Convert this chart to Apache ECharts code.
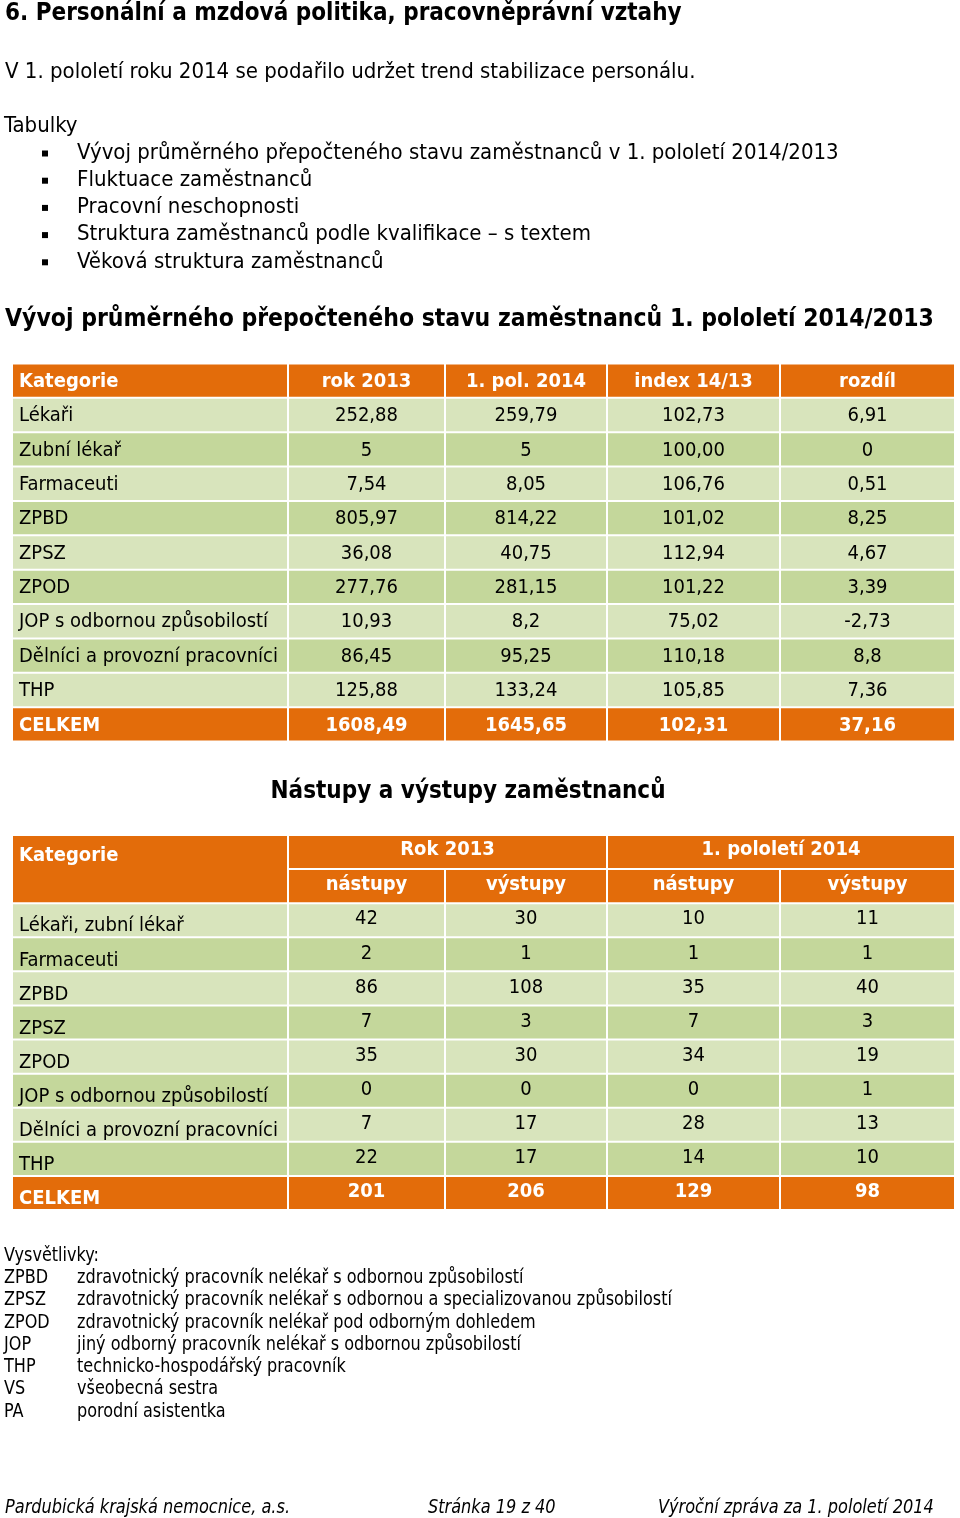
<!DOCTYPE html>
<html><head><meta charset="utf-8">
<script src="https://cdn.jsdelivr.net/npm/echarts@6/dist/echarts.min.js"></script>
<style>html,body{margin:0;padding:0;background:#fff}#c{width:960px;height:1518px}</style>
</head><body><div id="c"></div>
<script>
// ---------- data ----------
const t1Header = ['Kategorie', 'rok 2013', '1. pol. 2014', 'index 14/13', 'rozdíl'];
const t1Categories = ['Lékaři', 'Zubní lékař', 'Farmaceuti', 'ZPBD', 'ZPSZ', 'ZPOD',
  'JOP s odbornou způsobilostí', 'Dělníci a provozní pracovníci', 'THP'];
const t1Rok2013 = [252.88, 5, 7.54, 805.97, 36.08, 277.76, 10.93, 86.45, 125.88];
const t1Pol2014 = [259.79, 5, 8.05, 814.22, 40.75, 281.15, 8.2, 95.25, 133.24];
const t1Index = [102.73, 100.00, 106.76, 101.02, 112.94, 101.22, 75.02, 110.18, 105.85];
const t1Rozdil = [6.91, 0, 0.51, 8.25, 4.67, 3.39, -2.73, 8.8, 7.36];
const t1TotalLabel = 'CELKEM';
const t1Total = [1608.49, 1645.65, 102.31, 37.16];

const t2Header = ['Kategorie', 'Rok 2013', '1. pololetí 2014'];
const t2SubHeader = ['nástupy', 'výstupy', 'nástupy', 'výstupy'];
const t2Categories = ['Lékaři, zubní lékař', 'Farmaceuti', 'ZPBD', 'ZPSZ', 'ZPOD',
  'JOP s odbornou způsobilostí', 'Dělníci a provozní pracovníci', 'THP'];
const t2Nastupy2013 = [42, 2, 86, 7, 35, 0, 7, 22];
const t2Vystupy2013 = [30, 1, 108, 3, 30, 0, 17, 17];
const t2Nastupy2014 = [10, 1, 35, 7, 34, 0, 28, 14];
const t2Vystupy2014 = [11, 1, 40, 3, 19, 1, 13, 10];
const t2Total = [201, 206, 129, 98];

const headingText = '6. Personální a mzdová politika, pracovněprávní vztahy';
const introText = 'V 1. pololetí roku 2014 se podařilo udržet trend stabilizace personálu.';
const listTitle = 'Tabulky';
const listItems = ['Vývoj průměrného přepočteného stavu zaměstnanců v 1. pololetí 2014/2013',
  'Fluktuace zaměstnanců', 'Pracovní neschopnosti',
  'Struktura zaměstnanců podle kvalifikace – s textem', 'Věková struktura zaměstnanců'];
const table1Title = 'Vývoj průměrného přepočteného stavu zaměstnanců 1. pololetí 2014/2013';
const table2Title = 'Nástupy a výstupy zaměstnanců';
const notesTitle = 'Vysvětlivky:';
const noteAbbr = ['ZPBD', 'ZPSZ', 'ZPOD', 'JOP', 'THP', 'VS', 'PA'];
const noteText = ['zdravotnický pracovník nelékař s odbornou způsobilostí',
  'zdravotnický pracovník nelékař s odbornou a specializovanou způsobilostí',
  'zdravotnický pracovník nelékař pod odborným dohledem',
  'jiný odborný pracovník nelékař s odbornou způsobilostí',
  'technicko-hospodářský pracovník', 'všeobecná sestra', 'porodní asistentka'];
const footerTexts = ['Pardubická krajská nemocnice, a.s.', 'Stránka 19 z 40', 'Výroční zpráva za 1. pololetí 2014'];

// ---------- layout / style ----------
const colEdges = [0, 276, 433, 595, 768, 943];
const ORANGE = '#E36C0A', LIGHT = '#D8E4BC', DARK = '#C4D79B';
const FONT = '"DejaVu Sans Condensed", "DejaVu Sans", sans-serif';
const CELL_FS = 20;

const fmt = v => String(v).replace('.', ',');
const fmt2 = v => v.toFixed(2).replace('.', ',');

function cell(c0, c1, r0, r1, text, fill, opt) {
  return Object.assign({ x0: colEdges[c0], x1: colEdges[c1], y0: r0, y1: r1, text: text, fill: fill,
    color: '#000', bold: false, align: 'center', dy: 1 }, opt || {});
}

// table 1 cells
const cells1 = [];
t1Header.forEach((h, i) => cells1.push(cell(i, i + 1, 0, 1, h, ORANGE,
  { color: '#fff', bold: true, align: i === 0 ? 'left' : 'center' })));
t1Categories.forEach((cat, r) => {
  const fill = r % 2 === 0 ? LIGHT : DARK;
  const row = r + 1;
  cells1.push(cell(0, 1, row, row + 1, cat, fill, { align: 'left' }));
  cells1.push(cell(1, 2, row, row + 1, fmt(t1Rok2013[r]), fill));
  cells1.push(cell(2, 3, row, row + 1, fmt(t1Pol2014[r]), fill));
  cells1.push(cell(3, 4, row, row + 1, fmt2(t1Index[r]), fill));
  cells1.push(cell(4, 5, row, row + 1, fmt(t1Rozdil[r]), fill));
});
cells1.push(cell(0, 1, 10, 11, t1TotalLabel, ORANGE, { color: '#fff', bold: true, align: 'left' }));
t1Total.forEach((v, i) => cells1.push(cell(i + 1, i + 2, 10, 11, i === 2 ? fmt2(v) : fmt(v), ORANGE,
  { color: '#fff', bold: true })));

// table 2 cells
const cells2 = [];
cells2.push(cell(0, 1, 0, 2, t2Header[0], ORANGE, { color: '#fff', bold: true, align: 'left', dy: -13 }));
cells2.push(cell(1, 3, 0, 1, t2Header[1], ORANGE, { color: '#fff', bold: true, dy: -2 }));
cells2.push(cell(3, 5, 0, 1, t2Header[2], ORANGE, { color: '#fff', bold: true, dy: -2 }));
t2SubHeader.forEach((h, i) => cells2.push(cell(i + 1, i + 2, 1, 2, h, ORANGE, { color: '#fff', bold: true, dy: -1 })));
t2Categories.forEach((cat, r) => {
  const fill = r % 2 === 0 ? LIGHT : DARK;
  const row = r + 2;
  cells2.push(cell(0, 1, row, row + 1, cat, fill, { align: 'left', dy: 6 }));
  [t2Nastupy2013, t2Vystupy2013, t2Nastupy2014, t2Vystupy2014].forEach((arr, i) =>
    cells2.push(cell(i + 1, i + 2, row, row + 1, fmt(arr[r]), fill, { dy: -1 })));
});
cells2.push(cell(0, 1, 10, 11, t1TotalLabel, ORANGE, { color: '#fff', bold: true, align: 'left', dy: 6 }));
t2Total.forEach((v, i) => cells2.push(cell(i + 1, i + 2, 10, 11, fmt(v), ORANGE, { color: '#fff', bold: true, dy: -1 })));

function cellSeries(idx, cells) {
  return {
    type: 'custom', coordinateSystem: 'cartesian2d', xAxisIndex: idx, yAxisIndex: idx,
    data: cells.map(c => [c.x0, c.x1, c.y0, c.y1]),
    encode: { x: [0, 1], y: [2, 3] },
    silent: true, animation: false, clip: false,
    renderItem: (params, api) => {
      const c = cells[params.dataIndex];
      const p0 = api.coord([api.value(0), api.value(2)]);
      const p1 = api.coord([api.value(1), api.value(3)]);
      const x = p0[0] + 1, y = p0[1] + 1, w = p1[0] - p0[0] - 2, h = p1[1] - p0[1] - 2;
      const children = [{ type: 'rect', shape: { x: x, y: y, width: w, height: h }, style: { fill: c.fill } }];
      if (c.text !== '') {
        children.push({ type: 'text', style: {
          text: c.text, x: c.align === 'left' ? x + 6 : x + w / 2, y: y + h / 2 + c.dy,
          fill: c.color, fontSize: CELL_FS, fontFamily: FONT, fontWeight: c.bold ? 'bold' : 'normal',
          align: c.align, verticalAlign: 'middle', textAlign: c.align, textVerticalAlign: 'middle' } });
      }
      return { type: 'group', children: children };
    }
  };
}

function txt(x, y, text, o) {
  o = o || {};
  return { type: 'text', x: x, y: y, scaleX: o.sx || 1, silent: true, style: {
    text: text, fill: o.color || '#000', fontSize: o.fs || 22, fontFamily: FONT,
    fontWeight: o.bold ? 'bold' : 'normal', fontStyle: o.italic ? 'italic' : 'normal',
    align: o.align || 'left', verticalAlign: 'middle', textAlign: o.align || 'left', textVerticalAlign: 'middle' } };
}

const graphics = [];
graphics.push(txt(5, 14, headingText, { bold: true, fs: 24 }));
graphics.push(txt(5, 72, introText, { fs: 22 }));
graphics.push(txt(4, 126, listTitle, { fs: 22 }));
listItems.forEach((t, i) => {
  const y = 153 + i * 27.2;
  graphics.push({ type: 'rect', silent: true, shape: { x: 42, y: y - 2.5, width: 6, height: 6 }, style: { fill: '#000' } });
  graphics.push(txt(77, y, t, { fs: 22 }));
});
graphics.push(txt(5, 320, table1Title, { bold: true, fs: 24.5 }));
graphics.push(txt(468, 792, table2Title, { bold: true, fs: 24, align: 'center' }));
const NSX = 0.94;
graphics.push(txt(4, 1256, notesTitle, { fs: 19, sx: NSX }));
noteAbbr.forEach((a, i) => {
  const y = 1278 + i * 22.3;
  graphics.push(txt(4, y, a, { fs: 19, sx: NSX }));
  graphics.push(txt(77, y, noteText[i], { fs: 19, sx: NSX }));
});
const FSX = 0.945;
graphics.push(txt(5, 1508, footerTexts[0], { fs: 19, italic: true, sx: FSX }));
graphics.push(txt(428, 1508, footerTexts[1], { fs: 19, italic: true, sx: FSX }));
graphics.push(txt(658, 1508, footerTexts[2], { fs: 19, italic: true, sx: FSX }));

const hiddenX = i => ({ type: 'value', gridIndex: i, min: 0, max: 943, show: false });
const hiddenY = i => ({ type: 'value', gridIndex: i, min: 0, max: 11, inverse: true, show: false });

const chart = echarts.init(document.getElementById('c'), null, { renderer: 'canvas' });
chart.setOption({
  backgroundColor: '#fff',
  animation: false,
  grid: [
    { left: 12, top: 363.5, width: 943, height: 378 },
    { left: 12, top: 835, width: 943, height: 375 }
  ],
  xAxis: [hiddenX(0), hiddenX(1)],
  yAxis: [hiddenY(0), hiddenY(1)],
  series: [cellSeries(0, cells1), cellSeries(1, cells2)],
  graphic: graphics
});
</script>
</body></html>
